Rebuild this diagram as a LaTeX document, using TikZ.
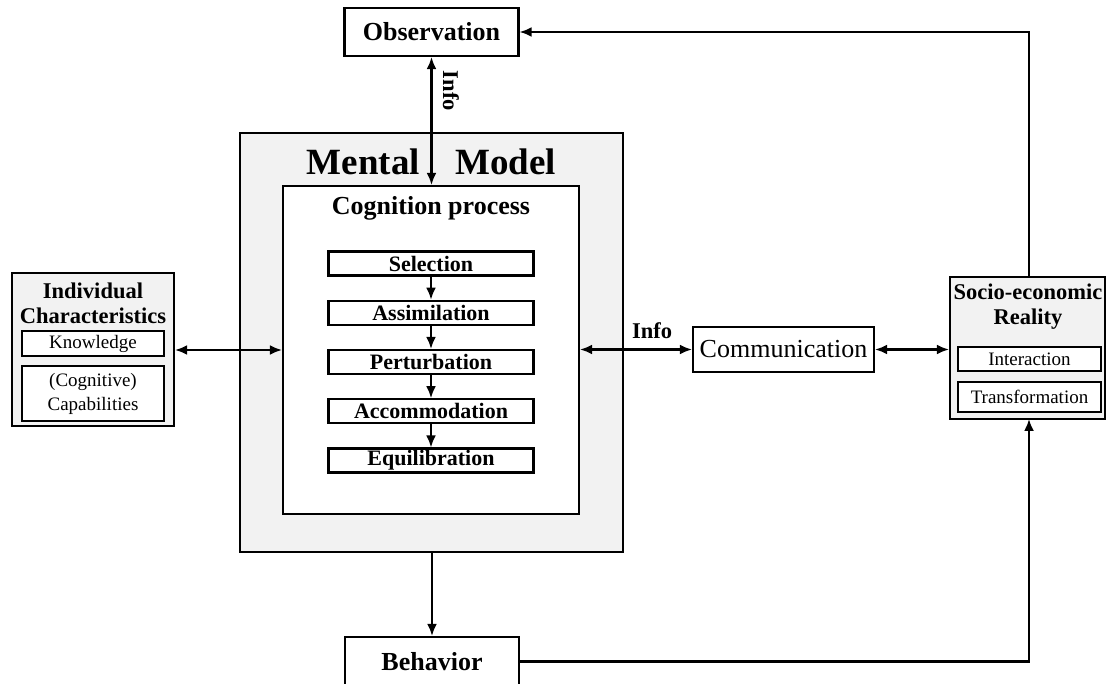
\documentclass[tikz,border=0pt]{standalone}
\usepackage{fontspec}
\setmainfont{Liberation Serif}
\usetikzlibrary{arrows.meta}
\begin{document}
\begin{tikzpicture}[x=1pt,y=-1pt,
  box/.style={draw, line width=2.2pt, inner sep=0pt},
  shaded/.style={fill=black!5},
  white/.style={fill=white},
  conn/.style={line width=2.2pt, -{Latex[length=12pt,width=10pt]}},
  dconn/.style={line width=2.2pt, {Latex[length=12pt,width=10pt]}-{Latex[length=12pt,width=10pt]}},
  bigb/.style={font=\fontsize{26}{30}\selectfont\bfseries},
  hugeb/.style={font=\fontsize{37}{40}\selectfont\bfseries},
  midb/.style={font=\fontsize{22.5}{25}\selectfont\bfseries},
  smallr/.style={font=\fontsize{19}{24}\selectfont},
  bigr/.style={font=\fontsize{26}{30}\selectfont},
  stepbox/.style={box, white, minimum width=205pt, minimum height=24pt, font=\fontsize{22}{24}\selectfont\bfseries}
]
\useasboundingbox (0,0) rectangle (1106,684);

% Mental model
\node[box, shaded, minimum width=383pt, minimum height=419pt] (mm) at (431.5,342.5) {};
\node[hugeb, anchor=base, inner sep=0pt] (mental) at (363.5,175) {Mental};
\node[hugeb, anchor=base, inner sep=0pt] (model) at (505.5,175) {Model};
\node[box, white, minimum width=296pt, minimum height=328pt] (cog) at (431,350) {};
\node[bigb, anchor=base, inner sep=0pt] (cogt) at (431,215) {Cognition process};

\node[stepbox] (sel) at (431,263.5) {Selection};
\node[stepbox] (ass) at (431,312.75) {Assimilation};
\node[stepbox] (per) at (431,362) {Perturbation};
\node[stepbox] (acc) at (431,411.25) {Accommodation};
\node[stepbox] (equ) at (431,460.5) {Equilibration};
\draw[conn] (sel) -- (ass);
\draw[conn] (ass) -- (per);
\draw[conn] (per) -- (acc);
\draw[conn] (acc) -- (equ);

% Observation
\node[box, white, bigb, minimum width=174pt, minimum height=48pt] (obs) at (431.5,32) {Observation};

% Individual characteristics
\node[box, shaded, minimum width=162pt, minimum height=153pt] (ind) at (93,349.5) {};
\node[midb, align=center, inner sep=0pt] (indt) at (93,303) {Individual\\Characteristics};
\node[box, white, smallr, minimum width=142pt, minimum height=25pt] (know) at (93,343.5) {Knowledge};
\node[box, white, smallr, align=center, minimum width=142pt, minimum height=55pt] (cap) at (93,393.5) {(Cognitive)\\Capabilities};

% Communication
\node[box, white, bigr, minimum width=181pt, minimum height=45pt] (comm) at (783.5,349.5) {Communication};

% Socio-economic reality
\node[box, shaded, minimum width=155pt, minimum height=142pt] (soc) at (1027.5,348) {};
\node[midb, align=center, inner sep=0pt] (soct) at (1028,307) {Socio-economic\\Reality};
\node[box, white, smallr, minimum width=143pt, minimum height=24pt] (inter) at (1029.5,359) {Interaction};
\node[box, white, smallr, minimum width=143pt, minimum height=30pt] (trans) at (1029.5,397) {Transformation};

% Behavior
\node[box, white, bigb, minimum width=174pt, minimum height=49pt] (beh) at (432,661.5) {Behavior};

% Connectors
\draw[dconn] (obs.south) -- (obs.south |- cog.north);
\node[midb, rotate=-90, inner sep=0pt] (infov) at (451,91) {Info};
\draw[dconn] (ind.east |- cog.west) -- (cog.west);
\draw[dconn] (cog.east |- comm.west) -- (comm.west);
\node[midb, inner sep=0pt] (infoh) at (652,331) {Info};
\draw[dconn] (comm.east) -- (comm.east -| soc.west);
\draw[conn] (mm.south -| beh.north) -- (beh.north);
\coordinate (socb) at (1029,419);
\draw[conn] (beh.east) -| (socb);
\coordinate (soctop) at (1029,277);
\draw[conn] (soctop) |- (obs.east);
\end{tikzpicture}
\end{document}
